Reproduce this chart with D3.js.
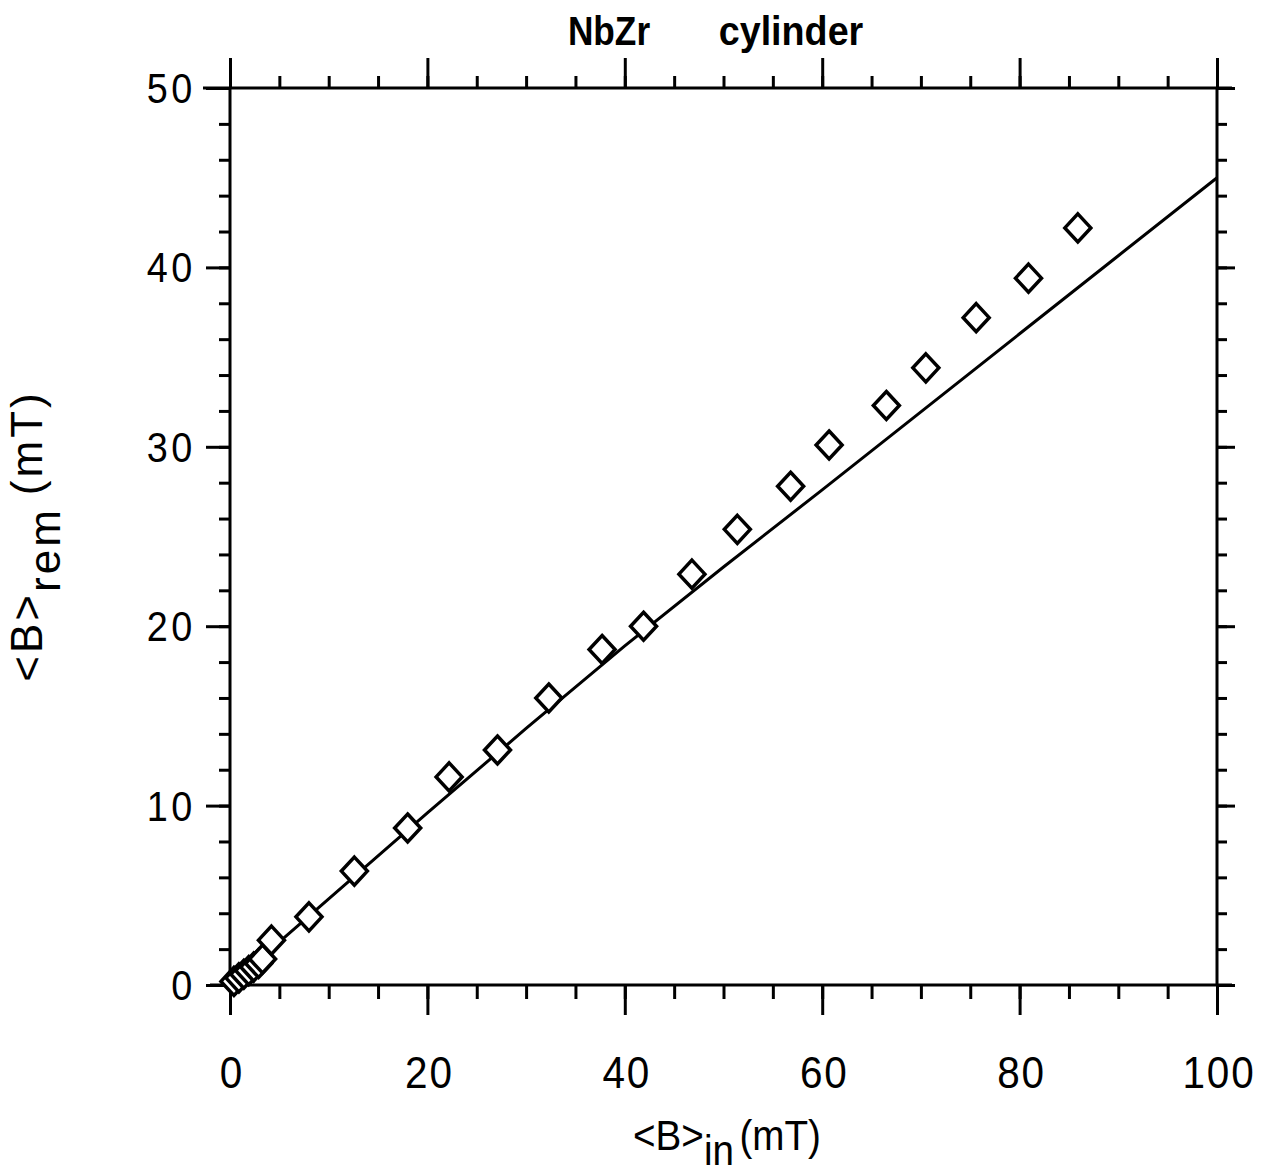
<!DOCTYPE html>
<html>
<head>
<meta charset="utf-8">
<script src="https://cdn.jsdelivr.net/npm/d3@7"></script>
<style>
  body { margin: 0; background: #fff; }
  svg { display: block; }
  .lbl { font-family: "Liberation Sans", Arial, sans-serif; fill: #000; }
</style>
</head>
<body>
<div id="chart"></div>
<script>
//////////
// DATA //
//////////

// <B>in (mT) and <B>rem (mT) measured points
var bIn  = [0.4, 0.9, 1.4, 1.9, 2.4, 2.9, 3.3, 4.2, 8.0, 12.6, 18.0, 22.2, 27.1, 32.3, 37.7, 41.9, 46.8, 51.4, 56.8, 60.7, 66.5, 70.5, 75.6, 80.9, 85.9];
var bRem = [0.2, 0.4, 0.6, 0.8, 1.0, 1.2, 1.45, 2.5, 3.8, 6.35, 8.75, 11.6, 13.1, 16.0, 18.7, 20.0, 22.9, 25.4, 27.8, 30.1, 32.3, 34.4, 37.2, 39.4, 42.2];

// model curve drawn through the data (bends over slightly)
var fitIn  = [0, 10, 20, 30, 40, 50, 60, 70, 80, 90, 100];
var fitRem = [0, 4.8, 9.6, 14.3, 18.9, 23.3, 27.6, 31.95, 36.3, 40.65, 45.0];

var xTicks = [0, 20, 40, 60, 80, 100];
var yTicks = [0, 10, 20, 30, 40, 50];
var xMinor = d3.range(0, 101, 5);
var yMinor = d3.range(0, 51, 2);

////////////////
// DIMENSIONS //
////////////////

var svgWidth = 1262, svgHeight = 1175;
// note: "top" is taken by window.top, so plot edges get their own names
var plotL = 230, plotR = 1217, plotT = 88, plotB = 985;

var svg = d3.select("#chart").append("svg")
  .attr("width", svgWidth)
  .attr("height", svgHeight);

var x = d3.scaleLinear().domain([0, 100]).range([plotL, plotR]);
var y = d3.scaleLinear().domain([0, 50]).range([plotB, plotT]);

//////////
// AXES //
//////////

function tickStyle(g) {
  g.select(".domain").remove();
  g.selectAll(".tick line").attr("stroke", "#000").attr("stroke-width", 3);
  g.selectAll(".tick text").remove();
}

// minor ticks
svg.append("g").attr("transform", "translate(0," + plotB + ")")
  .call(d3.axisBottom(x).tickValues(xMinor).tickSize(14)).call(tickStyle);
svg.append("g").attr("transform", "translate(0," + plotT + ")")
  .call(d3.axisTop(x).tickValues(xMinor).tickSize(12)).call(tickStyle);
svg.append("g").attr("transform", "translate(" + plotL + ",0)")
  .call(d3.axisLeft(y).tickValues(yMinor).tickSize(11)).call(tickStyle);
svg.append("g").attr("transform", "translate(" + plotR + ",0)")
  .call(d3.axisRight(y).tickValues(yMinor).tickSize(10)).call(tickStyle);

// major ticks
svg.append("g").attr("transform", "translate(0," + plotB + ")")
  .call(d3.axisBottom(x).tickValues(xTicks).tickSize(30)).call(tickStyle);
svg.append("g").attr("transform", "translate(0," + plotT + ")")
  .call(d3.axisTop(x).tickValues(xTicks).tickSize(30)).call(tickStyle);
svg.append("g").attr("transform", "translate(" + plotL + ",0)")
  .call(d3.axisLeft(y).tickValues(yTicks).tickSize(24)).call(tickStyle);
svg.append("g").attr("transform", "translate(" + plotR + ",0)")
  .call(d3.axisRight(y).tickValues(yTicks).tickSize(18)).call(tickStyle);

// frame
var frame = svg.append("g").attr("stroke", "#000").attr("stroke-width", 3);
frame.append("line").attr("x1", plotL - 27).attr("x2", plotR + 15).attr("y1", plotT).attr("y2", plotT);
frame.append("line").attr("x1", plotL - 20).attr("x2", plotR + 15).attr("y1", plotB).attr("y2", plotB);
frame.append("line").attr("x1", plotL).attr("x2", plotL).attr("y1", plotT).attr("y2", plotB);
frame.append("line").attr("x1", plotR).attr("x2", plotR).attr("y1", plotT).attr("y2", plotB);

// tick labels
svg.selectAll(".xlab").data(xTicks).enter().append("text")
  .attr("class", "lbl")
  .attr("transform", function (d) { return "translate(" + (x(d) + 2) + ",1088) scale(0.9,1)"; })
  .attr("text-anchor", "middle")
  .style("font-size", "45px")
  .style("letter-spacing", "2px")
  .text(function (d) { return d; });

svg.selectAll(".ylab").data(yTicks).enter().append("text")
  .attr("class", "lbl")
  .attr("transform", function (d) { return "translate(196," + (y(d) + 15) + ") scale(0.9,1)"; })
  .attr("text-anchor", "end")
  .style("font-size", "42px")
  .style("letter-spacing", "4px")
  .text(function (d) { return d; });

///////////
// MARKS //
///////////

svg.append("path")
  .datum(fitIn.map(function (d, i) { return [d, fitRem[i]]; }))
  .attr("fill", "none")
  .attr("stroke", "#000")
  .attr("stroke-width", 3)
  .attr("d", d3.line().x(function (d) { return x(d[0]); }).y(function (d) { return y(d[1]); }));

svg.selectAll(".pt").data(bIn).enter().append("path")
  .attr("class", "pt")
  .attr("transform", function (d, i) { return "translate(" + x(d) + "," + y(bRem[i]) + ")"; })
  .attr("d", "M0,-14L13,0L0,14L-13,0Z")
  .attr("fill", "#fff")
  .attr("stroke", "#000")
  .attr("stroke-width", 3.5);

////////////
// TITLES //
////////////

svg.append("text")
  .attr("class", "lbl")
  .attr("transform", "translate(609,45) scale(0.86,1)")
  .attr("text-anchor", "middle")
  .style("font-size", "41px")
  .style("font-weight", "bold")
  .text("NbZr");

svg.append("text")
  .attr("class", "lbl")
  .attr("transform", "translate(791,45) scale(0.92,1)")
  .attr("text-anchor", "middle")
  .style("font-size", "41px")
  .style("font-weight", "bold")
  .text("cylinder");

var xl = svg.append("text")
  .attr("class", "lbl")
  .attr("transform", "translate(727,1150) scale(0.92,1)")
  .attr("text-anchor", "middle")
  .style("font-size", "42px");
xl.append("tspan").text("<B>");
xl.append("tspan").attr("dy", 15).text("in");
xl.append("tspan").attr("dy", -15).attr("dx", 6).text("(mT)");

var yl = svg.append("text")
  .attr("class", "lbl")
  .attr("transform", "translate(42,536) rotate(-90)")
  .attr("text-anchor", "middle")
  .style("font-size", "44px")
  .style("letter-spacing", "3px");
yl.append("tspan").text("<B>");
yl.append("tspan").attr("dy", 18).text("rem");
yl.append("tspan").attr("dy", -18).attr("dx", 12).text("(mT)");
</script>
</body>
</html>
